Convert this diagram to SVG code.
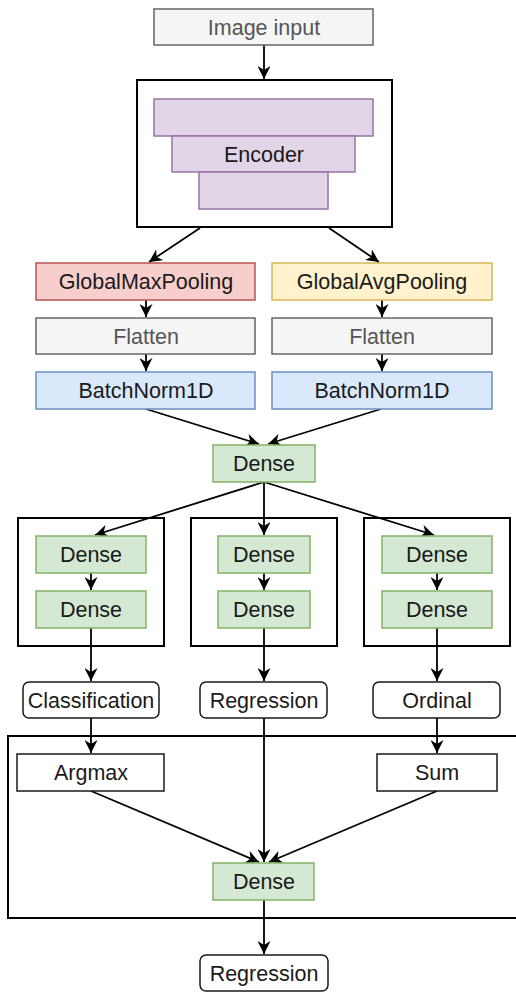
<svg xmlns="http://www.w3.org/2000/svg" width="516" height="992" viewBox="0 0 516 992">
<defs>
<style>
text{font-family:"Liberation Sans",Arial,sans-serif;font-size:21.5px;text-anchor:middle;fill:#1a1a1a}
.gray rect{fill:#f5f5f5;stroke:#666666;stroke-width:1.5}
.gray text{fill:#555555}
.purple{fill:#e1d5e7;stroke:#9673a6;stroke-width:1.5}
.red rect{fill:#f8cecc;stroke:#b85450;stroke-width:1.5}
.yellow rect{fill:#fff2cc;stroke:#d6b656;stroke-width:1.5}
.blue rect{fill:#dae8fc;stroke:#6c8ebf;stroke-width:1.5}
.green rect{fill:#d5e8d4;stroke:#82b366;stroke-width:1.5}
.plain rect{fill:#ffffff;stroke:#1a1a1a;stroke-width:1.5}
.box{fill:none;stroke:#000000;stroke-width:2}
.edge{fill:none;stroke:#000000;stroke-width:1.8;marker-end:url(#arr)}
</style>
<marker id="arr" viewBox="0 0 10 10" refX="10" refY="5" markerWidth="13" markerHeight="13" markerUnits="userSpaceOnUse" orient="auto">
<path d="M0,0 L10,5 L0,10 L3,5 z" fill="#000000"/>
</marker>
</defs>

<g id="containers">
<rect class="box" x="137" y="80" width="255" height="147"/>
<rect class="box" x="18" y="518" width="146" height="128"/>
<rect class="box" x="191" y="518" width="146" height="128"/>
<rect class="box" x="364" y="518" width="146" height="128"/>
<rect class="box" x="8" y="736" width="520" height="182"/>
</g>

<g id="connectors">
<path class="edge" d="M264,45 L264,79"/>
<path class="edge" d="M200,228 L149,262"/>
<path class="edge" d="M329,228 L379,262"/>
<path class="edge" d="M146,300 L146,317"/>
<path class="edge" d="M382,300 L382,317"/>
<path class="edge" d="M146,354 L146,371"/>
<path class="edge" d="M382,354 L382,371"/>
<path class="edge" d="M146,409 L259,444"/>
<path class="edge" d="M381,409 L268,444"/>
<path class="edge" d="M264,482 L95,535"/>
<path class="edge" d="M264,482 L264,535"/>
<path class="edge" d="M264,482 L434,535"/>
<path class="edge" d="M91,573 L91,590"/>
<path class="edge" d="M264,573 L264,590"/>
<path class="edge" d="M437,573 L437,590"/>
<path class="edge" d="M91,628 L91,681"/>
<path class="edge" d="M264,628 L264,681"/>
<path class="edge" d="M437,628 L437,681"/>
<path class="edge" d="M91,718 L91,753"/>
<path class="edge" d="M437,718 L437,753"/>
<path class="edge" d="M264,718 L264,862"/>
<path class="edge" d="M91,791 L259,862"/>
<path class="edge" d="M437,791 L269,862"/>
<path class="edge" d="M264,900 L264,954"/>
</g>

<g id="image-input" class="gray"><rect x="154" y="9" width="219" height="36"/><text x="264" y="35">Image input</text></g>
<g id="encoder">
<rect class="purple" x="154" y="99" width="219" height="37"/>
<rect class="purple" x="172" y="136" width="183" height="36"/>
<rect class="purple" x="199" y="172" width="129" height="37"/>
<text x="264" y="162">Encoder</text>
</g>
<g id="gmp" class="red"><rect x="36" y="263" width="219" height="37"/><text x="146" y="289">GlobalMaxPooling</text></g>
<g id="gap" class="yellow"><rect x="272" y="263" width="220" height="37"/><text x="382" y="289">GlobalAvgPooling</text></g>
<g id="flatten-l" class="gray"><rect x="36" y="318" width="219" height="36"/><text x="146" y="344">Flatten</text></g>
<g id="flatten-r" class="gray"><rect x="272" y="318" width="220" height="36"/><text x="382" y="344">Flatten</text></g>
<g id="bn-l" class="blue"><rect x="36" y="372" width="219" height="37"/><text x="146" y="398">BatchNorm1D</text></g>
<g id="bn-r" class="blue"><rect x="272" y="372" width="220" height="37"/><text x="382" y="398">BatchNorm1D</text></g>
<g id="dense-main" class="green"><rect x="213" y="445" width="102" height="37"/><text x="264" y="471">Dense</text></g>

<g id="dense-c1" class="green"><rect x="36" y="536" width="110" height="37"/><text x="91" y="562">Dense</text></g>
<g id="dense-c2" class="green"><rect x="36" y="591" width="110" height="37"/><text x="91" y="617">Dense</text></g>
<g id="dense-r1" class="green"><rect x="218" y="536" width="92" height="37"/><text x="264" y="562">Dense</text></g>
<g id="dense-r2" class="green"><rect x="218" y="591" width="92" height="37"/><text x="264" y="617">Dense</text></g>
<g id="dense-o1" class="green"><rect x="382" y="536" width="110" height="37"/><text x="437" y="562">Dense</text></g>
<g id="dense-o2" class="green"><rect x="382" y="591" width="110" height="37"/><text x="437" y="617">Dense</text></g>

<g id="classification" class="plain"><rect x="23" y="682" width="136" height="36" rx="6"/><text x="91" y="708">Classification</text></g>
<g id="regression" class="plain"><rect x="200" y="682" width="127" height="36" rx="6"/><text x="264" y="708">Regression</text></g>
<g id="ordinal" class="plain"><rect x="373" y="682" width="127" height="36" rx="6"/><text x="437" y="708">Ordinal</text></g>

<g id="argmax" class="plain"><rect x="17" y="754" width="147" height="37"/><text x="91" y="780">Argmax</text></g>
<g id="sum" class="plain"><rect x="377" y="754" width="120" height="37"/><text x="437" y="780">Sum</text></g>
<g id="dense-final" class="green"><rect x="213" y="863" width="101" height="37"/><text x="264" y="889">Dense</text></g>
<g id="regression-final" class="plain"><rect x="200" y="955" width="128" height="36" rx="6"/><text x="264" y="981">Regression</text></g>
</svg>
